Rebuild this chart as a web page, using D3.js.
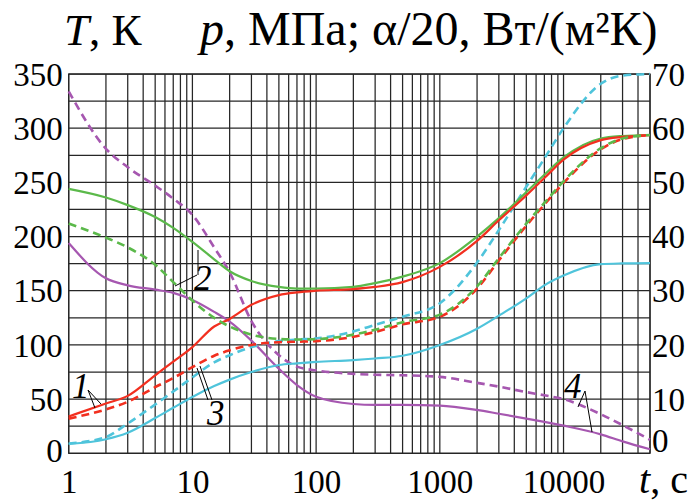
<!DOCTYPE html>
<html><head><meta charset="utf-8">
<script src="https://cdn.jsdelivr.net/npm/d3@7"></script>
<style>body{margin:0;background:#fff}svg{display:block}svg text{font-family:"Liberation Serif","Tinos","Times New Roman","DejaVu Serif",serif !important}</style>
</head><body>
<svg id="c" width="698" height="501"></svg>
<script>
const times = [1,2,3,5,7,10,15,20,30,50,70,100,200,300,500,1000,2000,3000,5000,7000,10000,20000,30000,50000];
const redSolid   = [34,46,53,72,84.5,98,117,124,137,146,148.5,150,151.5,153.5,158,172,196,215,238,254,271,289,292,293.5];
const redDashed  = [32,40.5,47.5,61,69.5,79.5,90,95,100,102.5,103,103.5,107.5,112,119,126,152,178,210,229.5,249.5,280.5,290,293.5];
const greenSolid = [244,236,229,218,208,195,179,168,159,153.5,152,152,153.5,157,163,175.5,200,217,241,257,273,290.5,292.8,293.7];
const greenDashed= [212,199,190,174,158,141,125,117,109.5,105.5,105,105.3,109.5,114,121,128,154,180,212,231,251,281.5,290.5,293.7];
const cyanSolid  = [8.6,13,19,32.5,42,52,62,68,75,81.5,83,84.3,86,87.5,90,100,115,127,143,155,164,174.5,175.2,175.5];
const cyanDashed = [9,15,27.5,45,57,70,84,90.5,98,103.5,105,106,112.5,118.5,126,138.5,176,206,246,272,300,341,348.5,350];
const magSolid   = [194,161.5,155,151,148,141.5,130.5,121.5,104,78,63,52.2,45.5,44.6,44.6,44,40,36.5,32,29,25.5,17.5,11,3.7];
const magDashed  = [334,281,264,247,235,220,190,167,122,90.5,80,76.5,73.3,72.5,72,70.5,65,61.5,56.5,53.5,50,36,26,12.5];
const leftTicks  = [0,50,100,150,200,250,300,350];
const rightTicks = [0,10,20,30,40,50,60,70];
const xTicks     = [1,10,100,1000,10000];

const svg = d3.select("#c");
const L=68.7, R=650, T=74, B=453.3;
const x = d3.scaleLog().domain([1,50000]).range([L,R]);
const y = d3.scaleLinear().domain([0,350]).range([B,T]);
const y2 = d3.scaleLinear().domain([0,70]).range([B,T]);

const g = svg.append("g").attr("stroke","#262626").attr("stroke-width",1.25);
const vlines=[];
for(let k=0;k<=4;k++) for(let m=1;m<=9;m++){const v=m*Math.pow(10,k); if(v<=50000) vlines.push(v);}
g.selectAll("line.v").data(vlines).join("line").attr("x1",d=>x(d)).attr("x2",d=>x(d)).attr("y1",T).attr("y2",B);
g.selectAll("line.h").data(d3.range(0,351,25)).join("line").attr("class","h").attr("x1",L).attr("x2",R).attr("y1",d=>y(d)).attr("y2",d=>y(d));
g.append("rect").attr("x",L).attr("y",T).attr("width",R-L).attr("height",B-T).attr("fill","none");

const fs=33;
const ax = d3.axisLeft(y).tickValues(leftTicks).tickSize(0).tickPadding(6);
svg.append("g").attr("transform",`translate(${L},0)`).call(ax).call(s=>{s.select(".domain").remove();s.selectAll("text").attr("font-size",fs).attr("fill","#000").attr("dy",d=>d===0?"0.24em":"0.34em");});
const ax2 = d3.axisRight(y2).tickValues(rightTicks).tickSize(0).tickPadding(2);
svg.append("g").attr("transform",`translate(${R},0)`).call(ax2).call(s=>{s.select(".domain").remove();s.selectAll("text").attr("font-size",fs).attr("fill","#000").attr("dy",d=>d===0?"-0.07em":"0.34em");});
const axb = d3.axisBottom(x).tickValues(xTicks).tickFormat(d3.format("d")).tickSize(0).tickPadding(16);
svg.append("g").attr("transform",`translate(0,${B})`).call(axb).call(s=>{s.select(".domain").remove();s.selectAll("text").attr("font-size",fs).attr("fill","#000");});

const line = d3.line().x((d,i)=>x(times[i])).y(d=>y(d)).curve(d3.curveMonotoneX);
const series = [
  [magDashed,"#a657b0",true],[magSolid,"#a657b0",false],
  [cyanSolid,"#4fc4db",false],[cyanDashed,"#4fc4db",true],
  [greenSolid,"#5bb94a",false],[redSolid,"#f22f1f",false],
  [redDashed,"#f22f1f",true],[greenDashed,"#5bb94a",true]
];
series.forEach(([d,c,dash])=>{
  svg.append("path").attr("d",line(d)).attr("fill","none").attr("stroke",c).attr("stroke-width",dash?2.6:2.2)
    .attr("stroke-dasharray",dash?"8,5":null);
});

const lead = svg.append("g").attr("stroke","#000").attr("stroke-width",1).attr("fill","none");
[[88,390,95,408],[88,390,101,404],
 [197,275,175,286],[198,275,198,250],
 [208,400,197,368],[212,400,200,366],
 [585,391,578,407],[585,391,592,432]].forEach(a=>lead.append("line").attr("x1",a[0]).attr("y1",a[1]).attr("x2",a[2]).attr("y2",a[3]));
const labs=[["1",72,398],["2",194,290],["3",207,425],["4",564,398]];
labs.forEach(l=>svg.append("text").attr("x",l[1]).attr("y",l[2]).attr("font-size",35).attr("font-style","italic").text(l[0]));

const t1 = svg.append("text").attr("x",64).attr("y",45).attr("font-size",45);
t1.append("tspan").attr("font-style","italic").text("T");
t1.append("tspan").text(", К");
const t2 = svg.append("text").attr("x",200).attr("y",45).attr("font-size",48);
t2.append("tspan").attr("font-style","italic").text("p");
t2.append("tspan").text(", МПа; α/20, Вт/(м²К)");
const t3 = svg.append("text").attr("x",639).attr("y",493).attr("font-size",40);
t3.append("tspan").attr("font-style","italic").text("t");
t3.append("tspan").text(", с");
</script>
</body></html>
